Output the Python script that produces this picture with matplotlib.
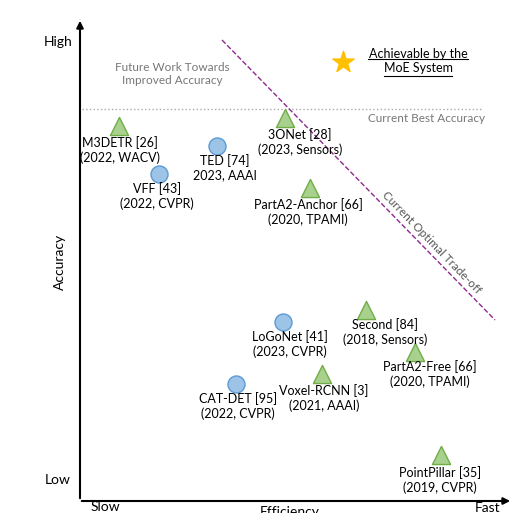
import matplotlib.pyplot as plt

plt.rcParams['font.family'] = ['Lato', 'DejaVu Sans']

tri_names = ["M3DETR [26]\n(2022, WACV)", "3ONet [28]\n(2023, Sensors)", "PartA2-Anchor [66]\n(2020, TPAMI)",
             "Second [84]\n(2018, Sensors)", "PartA2-Free [66]\n(2020, TPAMI)", "Voxel-RCNN [3]\n(2021, AAAI)",
             "PointPillar [35]\n(2019, CVPR)"]
tri_x = [119, 285, 310, 366, 415, 322, 441]
tri_y = [126, 118, 188, 310, 352, 374, 455]
tri_lab = [(120, 150), (300, 142), (308, 212), (385, 332), (430, 374), (324, 398), (440, 480)]

cir_names = ["TED [74]\n2023, AAAI", "VFF [43]\n(2022, CVPR)", "LoGoNet [41]\n(2023, CVPR)", "CAT-DET [95]\n(2022, CVPR)"]
cir_x = [217, 159, 283, 236]
cir_y = [146, 174, 322, 384]
cir_lab = [(225, 168), (157, 196), (290, 344), (238, 406)]

fig = plt.figure(figsize=(5.13, 5.13), dpi=100)
ax = fig.add_axes([0, 0, 1, 1])
ax.set_xlim(0, 513)
ax.set_ylim(513, 0)
ax.axis('off')

ax.annotate('', xy=(80, 18), xytext=(80, 501), arrowprops=dict(arrowstyle='-|>', color='black', lw=1.5))
ax.annotate('', xy=(513, 501), xytext=(79, 501), arrowprops=dict(arrowstyle='-|>', color='black', lw=1.5))

ax.text(58, 42, "High", fontsize=10, ha='center', va='center')
ax.text(58, 480, "Low", fontsize=10, ha='center', va='center')
ax.text(105, 507, "Slow", fontsize=10, ha='center', va='center')
ax.text(290, 512, "Efficiency", fontsize=10, ha='center', va='center')
ax.text(488, 508, "Fast", fontsize=10, ha='center', va='center')
ax.text(60, 262, "Accuracy", fontsize=10, ha='center', va='center', rotation=90)

ax.plot([82, 483], [109, 109], ls=':', color='#aaaaaa', lw=1)
ax.text(485, 118, "Current Best Accuracy", fontsize=8.5, color='#777777', ha='right', va='center')
ax.text(172, 74, "Future Work Towards\nImproved Accuracy", fontsize=8.5, color='#777777', ha='center', va='center')

ax.plot([222, 495], [40, 320], ls='--', color='#8e2a8e', lw=1)
ax.text(432, 243, "Current Optimal Trade-off", fontsize=8.5, color='#555555', rotation=-46, ha='center', va='center')

ax.scatter([343], [62], marker='*', s=260, color='#ffc000', zorder=3)
ax.text(418, 61, "Achievable by the\nMoE System", fontsize=9, ha='center', va='center')
ax.plot([368, 468], [59, 59], color='black', lw=0.8)
ax.plot([384, 452], [76, 76], color='black', lw=0.8)

ax.scatter(tri_x, tri_y, marker='^', s=170, color='#a9d18e', edgecolors='#70ad47', lw=1, zorder=3)
ax.scatter(cir_x, cir_y, marker='o', s=150, color='#9dc3e6', edgecolors='#5b9bd5', lw=1, zorder=3)
for name, (lx, ly) in zip(tri_names + cir_names, tri_lab + cir_lab):
    ax.text(lx, ly, name, fontsize=9, ha='center', va='center', linespacing=1.2)

fig.savefig('out.png', dpi=100)
